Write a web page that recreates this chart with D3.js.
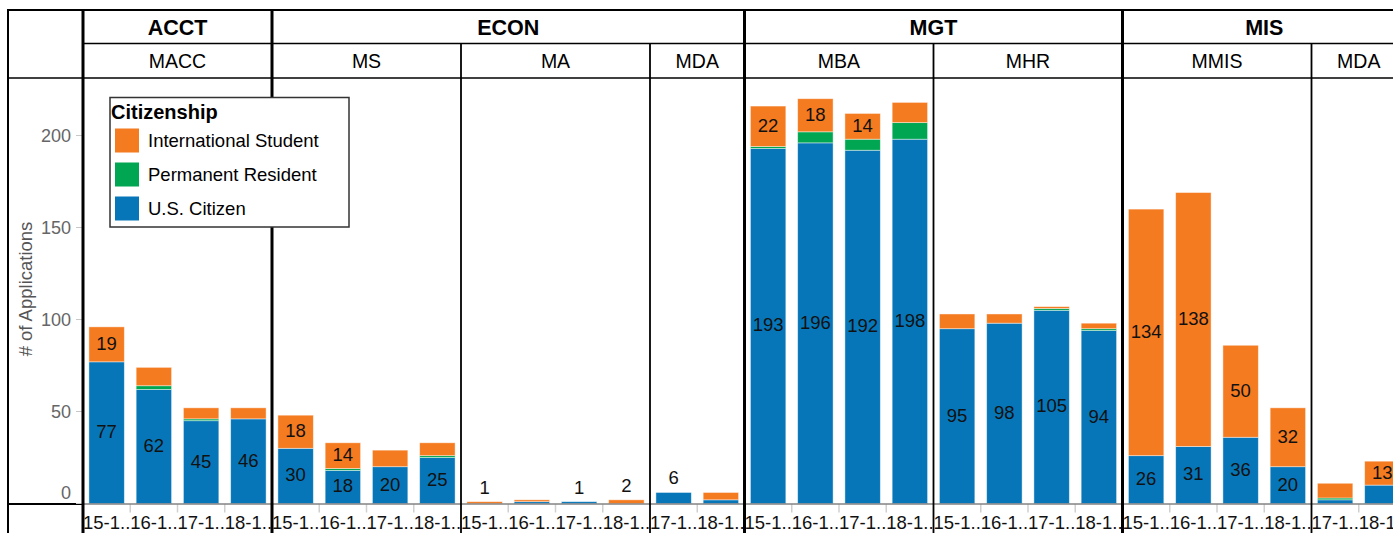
<!DOCTYPE html>
<html>
<head>
<meta charset="utf-8">
<script src="https://cdn.jsdelivr.net/npm/d3@7"></script>
<style>
  html, body { margin: 0; padding: 0; background: #fff; }
  svg { display: block; font-family: "Liberation Sans", Arial, sans-serif; }
</style>
</head>
<body>
<svg id="chart" width="1393" height="533"></svg>
<script>
// ---------------- DATA ----------------
const departments = ["ACCT", "ECON", "MGT", "MIS"];
const programNames = ["MACC", "MS", "MA", "MDA", "MBA", "MHR", "MMIS", "MDA"];
const programDepts = ["ACCT", "ECON", "ECON", "ECON", "MGT", "MGT", "MIS", "MIS"];
const programYears = [
  ["15-1..", "16-1..", "17-1..", "18-1.."],
  ["15-1..", "16-1..", "17-1..", "18-1.."],
  ["15-1..", "16-1..", "17-1..", "18-1.."],
  ["17-1..", "18-1.."],
  ["15-1..", "16-1..", "17-1..", "18-1.."],
  ["15-1..", "16-1..", "17-1..", "18-1.."],
  ["15-1..", "16-1..", "17-1..", "18-1.."],
  ["17-1..", "18-1.."]
];
const usCitizen = [
  [77, 62, 45, 46], [30, 18, 20, 25], [0, 1, 1, 0], [6, 2],
  [193, 196, 192, 198], [95, 98, 105, 94], [26, 31, 36, 20], [2, 10]
];
const permanentResident = [
  [0, 2, 1, 0], [0, 1, 0, 1], [0, 0, 0, 0], [0, 0],
  [1, 6, 6, 9], [0, 0, 1, 1], [0, 0, 0, 0], [1, 0]
];
const internationalStudent = [
  [19, 10, 6, 6], [18, 14, 9, 7], [1, 1, 0, 2], [0, 4],
  [22, 18, 14, 11], [8, 5, 1, 3], [134, 138, 50, 32], [8, 13]
];
const seriesKeys = ["U.S. Citizen", "Permanent Resident", "International Student"];
const legendOrder = ["International Student", "Permanent Resident", "U.S. Citizen"];
const seriesColors = ["#0776b8", "#00a651", "#f47b20"];
const yTicks = [0, 50, 100, 150, 200];
const yTitle = "# of Applications";
const legendTitle = "Citizenship";

// ---------------- LAYOUT ----------------
const W = 1393, H = 533;
const outerLeft = 8, plotLeft = 83, slot = 47.25;
const topY = 10, headY = 43.5, subY = 78, baseY = 503.5;
const svg = d3.select("#chart");

const y = d3.scaleLinear().domain([0, 200]).range([baseY, 135.5]);
const color = d3.scaleOrdinal().domain(seriesKeys).range(seriesColors);

// program panel extents
const panels = [];
let cx = plotLeft;
programNames.forEach((p, i) => {
  const w = programYears[i].length * slot;
  panels.push({ name: p, dept: programDepts[i], x0: cx, x1: cx + w, idx: i });
  cx += w;
});
const deptExtents = departments.map(d => {
  const ps = panels.filter(p => p.dept === d);
  return { name: d, x0: ps[0].x0, x1: ps[ps.length - 1].x1 };
});

// ---------------- BARS ----------------
const stack = d3.stack().keys(seriesKeys);
const barsG = svg.append("g");
const labelsG = svg.append("g");
panels.forEach(p => {
  const i = p.idx;
  const rows = programYears[i].map((yr, j) => ({
    year: yr,
    "U.S. Citizen": usCitizen[i][j],
    "Permanent Resident": permanentResident[i][j],
    "International Student": internationalStudent[i][j]
  }));
  const x = d3.scaleBand().domain(programYears[i]).range([p.x0, p.x1])
    .paddingInner(0.25).paddingOuter(0.125);
  const layers = stack(rows);
  layers.forEach(layer => {
    barsG.selectAll(null).data(layer.filter(d => d[1] > d[0])).enter().append("rect")
      .attr("x", d => x(d.data.year))
      .attr("width", x.bandwidth())
      .attr("y", d => y(d[1]))
      .attr("height", d => y(d[0]) - y(d[1]))
      .attr("fill", color(layer.key))
      .attr("stroke", "#ffffff").attr("stroke-opacity", 0.55).attr("stroke-width", 0.8);
    layer.forEach(d => {
      const v = d[1] - d[0];
      if (v <= 0) return;
      const hpx = y(d[0]) - y(d[1]);
      const nonzero = seriesKeys.filter(k => d.data[k] > 0).length;
      const cxm = x(d.data.year) + x.bandwidth() / 2;
      if (hpx >= 22) {
        labelsG.append("text").attr("x", cxm).attr("y", (y(d[0]) + y(d[1])) / 2 - 1)
          .attr("text-anchor", "middle").attr("dominant-baseline", "central")
          .attr("font-size", 18.5).attr("fill", "#111").text(v);
      } else if (nonzero === 1) {
        labelsG.append("text").attr("x", cxm).attr("y", y(d[1]) - 8)
          .attr("text-anchor", "middle")
          .attr("font-size", 18.5).attr("fill", "#111").text(v);
      }
    });
  });
  // x axis tick separators (between slots)
  const inner = programYears[i].slice(1);
  svg.selectAll(null).data(inner).enter().append("line")
    .attr("x1", d => x(d) - x.step() * x.paddingInner() / 2)
    .attr("x2", d => x(d) - x.step() * x.paddingInner() / 2)
    .attr("y1", baseY + 1).attr("y2", baseY + 9)
    .attr("stroke", "#d0d0d0").attr("stroke-width", 1.5);
  // x labels
  svg.selectAll(null).data(programYears[i]).enter().append("text")
    .attr("x", d => x(d) + x.bandwidth() / 2)
    .attr("y", 522).attr("dominant-baseline", "central")
    .attr("text-anchor", "middle").attr("font-size", 18.5).attr("fill", "#111")
    .text(d => d);
});

// baseline
svg.append("line").attr("x1", plotLeft).attr("x2", W).attr("y1", baseY + 0.5).attr("y2", baseY + 0.5)
  .attr("stroke", "#444").attr("stroke-width", 1);
svg.append("line").attr("x1", outerLeft).attr("x2", plotLeft).attr("y1", baseY + 0.5).attr("y2", baseY + 0.5)
  .attr("stroke", "#000").attr("stroke-width", 2);

// ---------------- Y AXIS ----------------
const yAxisG = svg.append("g");
yTicks.forEach(t => {
  yAxisG.append("line").attr("x1", 76).attr("x2", 82).attr("y1", y(t)).attr("y2", y(t))
    .attr("stroke", "#c8c8c8").attr("stroke-width", 1);
  yAxisG.append("text").attr("x", 71).attr("y", t === 0 ? y(t) - 11 : y(t))
    .attr("text-anchor", "end").attr("dominant-baseline", "central")
    .attr("font-size", 18).attr("fill", "#666").text(t);
});
svg.append("text").attr("transform", "translate(25,289) rotate(-90)")
  .attr("text-anchor", "middle").attr("dominant-baseline", "central")
  .attr("font-size", 18.5).attr("fill", "#555").text(yTitle);

// ---------------- GRID / HEADERS ----------------
const linesG = svg.append("g").attr("stroke", "#000");
linesG.append("line").attr("x1", outerLeft).attr("x2", W).attr("y1", topY).attr("y2", topY).attr("stroke-width", 2);
linesG.append("line").attr("x1", plotLeft).attr("x2", W).attr("y1", headY).attr("y2", headY).attr("stroke-width", 1.6);
linesG.append("line").attr("x1", outerLeft).attr("x2", W).attr("y1", subY).attr("y2", subY).attr("stroke-width", 1.6);
linesG.append("line").attr("x1", outerLeft).attr("x2", outerLeft).attr("y1", topY - 1).attr("y2", H).attr("stroke-width", 2);
// program separators (thin)
panels.forEach(p => {
  const isDeptStart = deptExtents.some(d => d.x0 === p.x0);
  if (!isDeptStart) {
    linesG.append("line").attr("x1", p.x0).attr("x2", p.x0).attr("y1", headY).attr("y2", H).attr("stroke-width", 1.8);
  }
});
// dept separators (thick)
deptExtents.forEach(d => {
  linesG.append("line").attr("x1", d.x0).attr("x2", d.x0).attr("y1", topY - 1).attr("y2", H).attr("stroke-width", 3);
});
// header text
deptExtents.forEach(d => {
  svg.append("text").attr("x", (d.x0 + d.x1) / 2).attr("y", (topY + headY) / 2 + 1)
    .attr("text-anchor", "middle").attr("dominant-baseline", "central")
    .attr("font-size", 21.5).attr("font-weight", "bold").attr("fill", "#000").text(d.name);
});
panels.forEach(p => {
  svg.append("text").attr("x", (p.x0 + p.x1) / 2).attr("y", (headY + subY) / 2 + 0.5)
    .attr("text-anchor", "middle").attr("dominant-baseline", "central")
    .attr("font-size", 19.5).attr("fill", "#000").text(p.name);
});

// ---------------- LEGEND ----------------
const lg = svg.append("g");
lg.append("rect").attr("x", 110).attr("y", 97.5).attr("width", 239).attr("height", 129.5)
  .attr("fill", "#fff").attr("stroke", "#333").attr("stroke-width", 1.5);
lg.append("text").attr("x", 111).attr("y", 112).attr("dominant-baseline", "central")
  .attr("font-size", 20).attr("font-weight", "bold").attr("fill", "#000").text(legendTitle);
legendOrder.forEach((k, i) => {
  const yy = 128.5 + i * 34;
  lg.append("rect").attr("x", 115).attr("y", yy).attr("width", 24).attr("height", 24).attr("fill", color(k));
  lg.append("text").attr("x", 148).attr("y", yy + 12).attr("dominant-baseline", "central")
    .attr("font-size", 18.5).attr("fill", "#000").text(k);
});
</script>
</body>
</html>
